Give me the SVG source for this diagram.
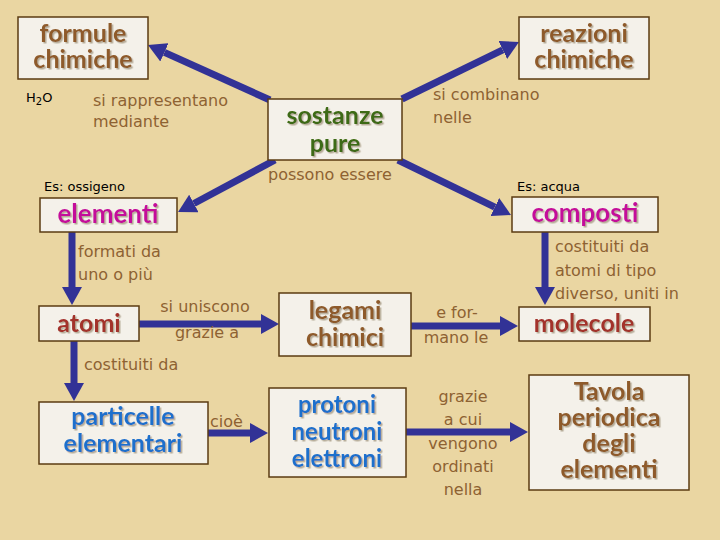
<svg xmlns="http://www.w3.org/2000/svg" width="720" height="540" viewBox="0 0 720 540">
<defs>
<style>
.box{fill:#f4f1ea;stroke:#5b3b12;stroke-width:1.5}
.t{font-family:Lato,"Noto Sans",sans-serif;font-weight:bold;text-anchor:middle;filter:url(#sh)}
.brown{fill:#8e5a2a}
.green{fill:#3d6b12}
.mag{fill:#c4119a}
.red{fill:#a3302b}
.blue{fill:#1f6fcc}
.lab{font-family:"DejaVu Sans",sans-serif;font-size:16px;fill:#8e6232}
.ex{font-family:"DejaVu Sans",sans-serif;font-size:13px;fill:#000}
.arr{stroke:#323296;stroke-width:7;fill:none}
</style>
<filter id="sh" x="-10%" y="-10%" width="120%" height="130%">
<feDropShadow dx="1.5" dy="1.5" stdDeviation="0.5" flood-color="#b0a590" flood-opacity="0.9"/>
</filter>
<marker id="ah" markerUnits="userSpaceOnUse" markerWidth="18" markerHeight="20" refX="0" refY="10" orient="auto">
<path d="M0,0 L18,10 L0,20 z" fill="#323296"/>
</marker>
</defs>
<rect width="720" height="540" fill="#ead6a2"/>

<g id="connectors">
<line class="arr" x1="270" y1="100" x2="164.4" y2="52.4" marker-end="url(#ah)"/>
<line class="arr" x1="402" y1="99" x2="502.8" y2="49.9" marker-end="url(#ah)"/>
<line class="arr" x1="275" y1="160" x2="193.9" y2="203.5" marker-end="url(#ah)"/>
<line class="arr" x1="398" y1="160" x2="494.8" y2="207.1" marker-end="url(#ah)"/>
<line class="arr" x1="72" y1="232" x2="72" y2="287" marker-end="url(#ah)"/>
<line class="arr" x1="139" y1="324" x2="261" y2="324" marker-end="url(#ah)"/>
<line class="arr" x1="74" y1="341" x2="74" y2="383" marker-end="url(#ah)"/>
<line class="arr" x1="208" y1="433" x2="250" y2="433" marker-end="url(#ah)"/>
<line class="arr" x1="545" y1="232" x2="545" y2="287" marker-end="url(#ah)"/>
<line class="arr" x1="411" y1="326" x2="500" y2="326" marker-end="url(#ah)"/>
<line class="arr" x1="406" y1="432" x2="510" y2="432" marker-end="url(#ah)"/>
</g>

<g id="formule">
<rect class="box" x="18" y="17" width="130" height="62"/>
<text class="t brown" font-size="25" x="83" y="42">formule</text>
<text class="t brown" font-size="25" x="83" y="68">chimiche</text>
</g>
<g id="reazioni">
<rect class="box" x="519" y="17" width="130" height="62"/>
<text class="t brown" font-size="25" x="584" y="42">reazioni</text>
<text class="t brown" font-size="25" x="584" y="68">chimiche</text>
</g>
<g id="sostanze">
<rect class="box" x="268" y="99" width="134" height="61"/>
<text class="t green" font-size="25" x="335" y="124">sostanze</text>
<text class="t green" font-size="25" x="335" y="152">pure</text>
</g>
<g id="elementi">
<rect class="box" x="40" y="198" width="137" height="34"/>
<text class="t mag" font-size="26" x="108" y="223">elementi</text>
</g>
<g id="composti">
<rect class="box" x="512" y="197" width="146" height="35"/>
<text class="t mag" font-size="26" x="585" y="222">composti</text>
</g>
<g id="atomi">
<rect class="box" x="39" y="306" width="100" height="35"/>
<text class="t red" font-size="25" x="89" y="332">atomi</text>
</g>
<g id="legami">
<rect class="box" x="279" y="293" width="132" height="63"/>
<text class="t brown" font-size="25" x="345" y="319">legami</text>
<text class="t brown" font-size="25" x="345" y="346">chimici</text>
</g>
<g id="molecole">
<rect class="box" x="519" y="307" width="131" height="34"/>
<text class="t red" font-size="25" x="584" y="332">molecole</text>
</g>
<g id="particelle">
<rect class="box" x="39" y="402" width="169" height="62"/>
<text class="t blue" font-size="25" x="123" y="425">particelle</text>
<text class="t blue" font-size="25" x="123" y="452">elementari</text>
</g>
<g id="protoni">
<rect class="box" x="269" y="388" width="137" height="89"/>
<text class="t blue" font-size="24" x="337" y="413">protoni</text>
<text class="t blue" font-size="24" x="337" y="440">neutroni</text>
<text class="t blue" font-size="24" x="337" y="467">elettroni</text>
</g>
<g id="tavola">
<rect class="box" x="529" y="375" width="160" height="115"/>
<text class="t brown" font-size="25" x="609" y="400">Tavola</text>
<text class="t brown" font-size="25" x="609" y="426">periodica</text>
<text class="t brown" font-size="25" x="609" y="452">degli</text>
<text class="t brown" font-size="25" x="609" y="478">elementi</text>
</g>

<g id="labels">
<text class="ex" x="26" y="102">H<tspan font-size="10" dy="3">2</tspan><tspan dy="-3">O</tspan></text>
<text class="lab" x="93" y="106">si rappresentano</text>
<text class="lab" x="93" y="127">mediante</text>
<text class="lab" x="268" y="180">possono essere</text>
<text class="ex" x="44" y="191">Es: ossigeno</text>
<text class="lab" x="433" y="100">si combinano</text>
<text class="lab" x="433" y="123">nelle</text>
<text class="ex" x="517" y="191">Es: acqua</text>
<text class="lab" x="78" y="257">formati da</text>
<text class="lab" x="78" y="280">uno o più</text>
<text class="lab" x="205" y="312" text-anchor="middle">si uniscono</text>
<text class="lab" x="207" y="338" text-anchor="middle">grazie a</text>
<text class="lab" x="84" y="370">costituiti da</text>
<text class="lab" x="555" y="252">costituiti da</text>
<text class="lab" x="555" y="276">atomi di tipo</text>
<text class="lab" x="555" y="299">diverso, uniti in</text>
<text class="lab" x="457" y="318" text-anchor="middle">e for-</text>
<text class="lab" x="456" y="343" text-anchor="middle">mano le</text>
<text class="lab" x="210" y="427">cioè</text>
<text class="lab" x="463" y="402" text-anchor="middle">grazie</text>
<text class="lab" x="463" y="425" text-anchor="middle">a cui</text>
<text class="lab" x="463" y="449" text-anchor="middle">vengono</text>
<text class="lab" x="463" y="472" text-anchor="middle">ordinati</text>
<text class="lab" x="463" y="495" text-anchor="middle">nella</text>
</g>
</svg>
